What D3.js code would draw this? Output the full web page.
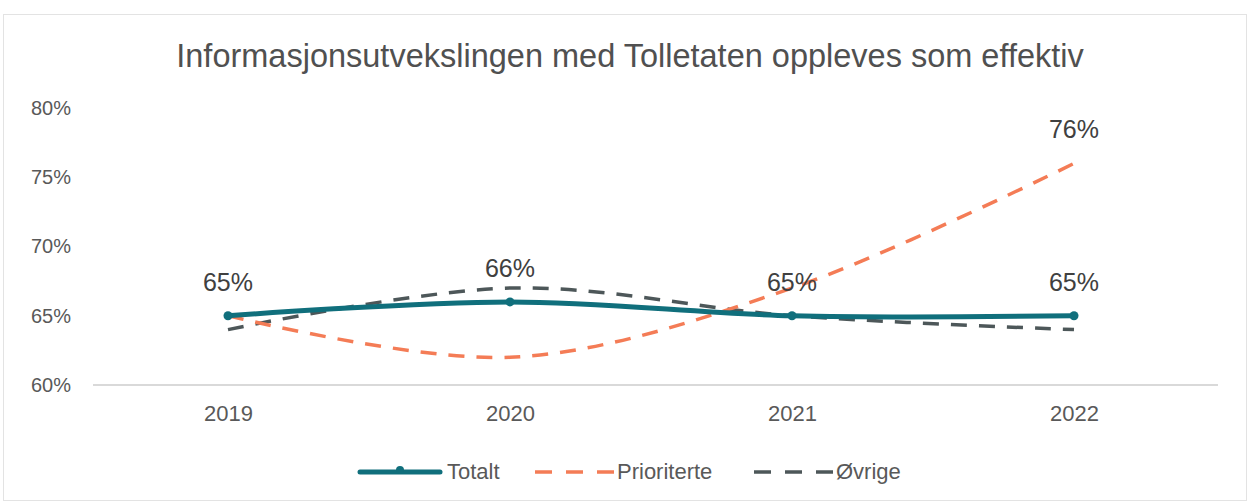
<!DOCTYPE html>
<html><head><meta charset="utf-8">
<script src="https://cdn.jsdelivr.net/npm/d3@7"></script>
<style>body{margin:0;background:#fff;font-family:"Liberation Sans",Arial,sans-serif;}</style>
</head><body>
<svg id="chart" width="1250" height="504"></svg>
<script>
const categories = ["2019", "2020", "2021", "2022"];
const totalt = [0.65, 0.66, 0.65, 0.65];
const prioriterte = [0.65, 0.62, 0.67, 0.76];
const ovrige = [0.64, 0.67, 0.65, 0.64];
const yTicks = [0.60, 0.65, 0.70, 0.75, 0.80];
const title = "Informasjonsutvekslingen med Tolletaten oppleves som effektiv";

const svg = d3.select("#chart");
svg.append("rect").attr("x", 3.5).attr("y", 14.5).attr("width", 1243).attr("height", 486)
  .attr("fill", "#fff").attr("stroke", "#e3e3e3").attr("stroke-width", 1);

const x = d3.scalePoint().domain(categories).range([228, 1074]);
const y = d3.scaleLinear().domain([0.60, 0.80]).range([385, 108]);

svg.append("text").attr("x", 630).attr("y", 67).attr("text-anchor", "middle")
  .attr("font-size", 32.5).attr("fill", "#505050").text(title);

const fmt = d3.format(".0%");
svg.append("g").attr("transform", "translate(71,0)")
  .call(d3.axisLeft(y).tickValues(yTicks).tickFormat(fmt).tickSize(0).tickPadding(0))
  .call(g => g.select(".domain").remove())
  .call(g => g.selectAll("text").attr("font-size", 20).attr("fill", "#595959")
    .attr("font-family", "Liberation Sans, Arial, sans-serif"));

svg.append("line").attr("x1", 93).attr("x2", 1218).attr("y1", 385).attr("y2", 385)
  .attr("stroke", "#d9d9d9").attr("stroke-width", 2);
svg.append("g").attr("transform", "translate(0,385)")
  .call(d3.axisBottom(x).tickSize(0).tickPadding(20))
  .call(g => g.select(".domain").remove())
  .call(g => g.selectAll("text").attr("font-size", 22).attr("fill", "#595959")
    .attr("font-family", "Liberation Sans, Arial, sans-serif"));

const line = d3.line().x((d, i) => x(categories[i])).y(d => y(d)).curve(d3.curveCatmullRom.alpha(0.5));

const cTeal = "#106f7c", cOrange = "#f47c56", cGray = "#4d5759";
const dash = "16 12";

svg.append("path").datum(ovrige).attr("d", line).attr("fill", "none")
  .attr("stroke", cGray).attr("stroke-width", 3.5).attr("stroke-dasharray", dash);
svg.append("path").datum(prioriterte).attr("d", line).attr("fill", "none")
  .attr("stroke", cOrange).attr("stroke-width", 3.5).attr("stroke-dasharray", dash);
svg.append("path").datum(totalt).attr("d", line).attr("fill", "none")
  .attr("stroke", cTeal).attr("stroke-width", 5).attr("stroke-linecap", "round");
svg.selectAll("circle.pt").data(totalt).join("circle").attr("class", "pt")
  .attr("cx", (d, i) => x(categories[i])).attr("cy", d => y(d)).attr("r", 4.5).attr("fill", cTeal);

svg.selectAll("text.dl").data(totalt).join("text").attr("class", "dl")
  .attr("x", (d, i) => x(categories[i])).attr("y", d => y(d) - 25)
  .attr("text-anchor", "middle").attr("font-size", 25).attr("fill", "#404040")
  .text(d => fmt(d));
svg.append("text").attr("x", x("2022")).attr("y", y(prioriterte[3]) - 25)
  .attr("text-anchor", "middle").attr("font-size", 25).attr("fill", "#404040")
  .text(fmt(prioriterte[3]));

const legend = [
  {name: "Totalt", color: cTeal, w: 5, dash: null, x: 360},
  {name: "Prioriterte", color: cOrange, w: 3.5, dash: "17 14", x: 535},
  {name: "Øvrige", color: cGray, w: 3.5, dash: "17 14", x: 754}
];
const lg = svg.append("g");
legend.forEach(l => {
  lg.append("line").attr("x1", l.x).attr("x2", l.x + 80).attr("y1", 472).attr("y2", 472)
    .attr("stroke", l.color).attr("stroke-width", l.w).attr("stroke-dasharray", l.dash)
    .attr("stroke-linecap", l.dash ? null : "round");
  if (!l.dash) lg.append("circle").attr("cx", l.x + 40).attr("cy", 470).attr("r", 4).attr("fill", l.color);
  lg.append("text").attr("x", l.x + (l.dash ? 82 : 87)).attr("y", 479).attr("font-size", 22).attr("fill", "#595959").text(l.name);
});
</script>
</body></html>
